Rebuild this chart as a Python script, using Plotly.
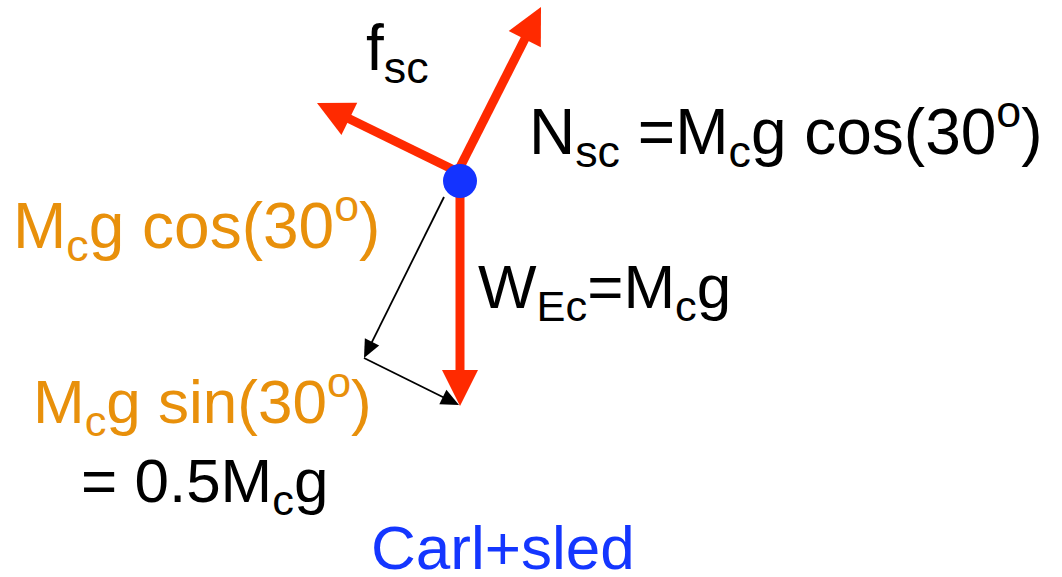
import numpy as np
import plotly.graph_objects as go

# --- diagram data (pixel-space coordinates of the free-body diagram) ---
W, H = 1062, 577
body_x, body_y = [460], [181]
body_label = ["Carl+sled"]

# red force vectors: name, tail, tip
force_names = ["N_sc", "f_sc", "W_Ec"]
force_tail_x = [455, 456, 460]
force_tail_y = [177, 171, 181]
force_tip_x = [541, 317, 460]
force_tip_y = [7, 103, 406]

# black component vectors of the weight
comp_names = ["Mg cos30", "Mg sin30"]
comp_tail_x = [444, 364]
comp_tail_y = [197, 358]
comp_tip_x = [364, 459]
comp_tip_y = [358, 405]

# text labels
label_texts = [
    "f<sub>sc</sub>",
    "N<sub>sc</sub> =M<sub>c</sub>g cos(30<sup>o</sup>)",
    "M<sub>c</sub>g cos(30<sup>o</sup>)",
    "W<sub>Ec</sub>=M<sub>c</sub>g",
    "M<sub>c</sub>g sin(30<sup>o</sup>)",
    "= 0.5M<sub>c</sub>g",
    "Carl+sled",
]
label_x = [364, 527, 11, 476, 31, 79, 369]
label_baseline = [75, 154, 248, 313, 424, 507, 570]
label_colors = ["black", "black", "#E8900B", "black", "#E8900B", "black", "#1436FF"]
label_sizes = [64, 64, 64, 62, 62, 62, 62]

RED = "#FF2A00"
BLUE = "#1433FF"

fig = go.Figure()


def head(tx, ty, hx, hy, length, width):
    d = np.array([hx - tx, hy - ty], float)
    d /= np.linalg.norm(d)
    p = np.array([-d[1], d[0]])
    tip = np.array([hx, hy], float)
    base = tip - d * length
    a = base + p * width / 2
    b = base - p * width / 2
    return [tip[0], a[0], b[0], tip[0]], [tip[1], a[1], b[1], tip[1]], base


def arrow(tx, ty, hx, hy, color, lw, hl, hw):
    xs, ys, base = head(tx, ty, hx, hy, hl, hw)
    fig.add_trace(go.Scatter(x=[tx, base[0] + (hx - tx) * 0.02], y=[ty, base[1] + (hy - ty) * 0.02],
                             mode="lines", line=dict(color=color, width=lw),
                             hoverinfo="skip", showlegend=False))
    fig.add_trace(go.Scatter(x=xs, y=ys, mode="lines", fill="toself", fillcolor=color,
                             line=dict(color=color, width=0), hoverinfo="skip", showlegend=False))


for i in range(len(comp_names)):
    arrow(comp_tail_x[i], comp_tail_y[i], comp_tip_x[i], comp_tip_y[i], "black", 1.8, 18, 16)

for i in range(len(force_names)):
    arrow(force_tail_x[i], force_tail_y[i], force_tip_x[i], force_tip_y[i], RED, 9, 36, 36)

fig.add_trace(go.Scatter(x=body_x, y=body_y, mode="markers",
                         marker=dict(size=34, color=BLUE, line=dict(width=0)),
                         hoverinfo="skip", showlegend=False))

for t, x, yb, c, s in zip(label_texts, label_x, label_baseline, label_colors, label_sizes):
    fig.add_annotation(x=x, y=yb - 0.36 * s, text=t, showarrow=False, xanchor="left", yanchor="middle",
                       font=dict(family="Liberation Sans, Arial, sans-serif", size=s, color=c),
                       xref="x", yref="y")

fig.update_layout(
    width=W, height=H, margin=dict(l=0, r=0, t=0, b=0),
    paper_bgcolor="white", plot_bgcolor="white",
    xaxis=dict(range=[0, W], visible=False, fixedrange=True),
    yaxis=dict(range=[H, 0], visible=False, fixedrange=True),
    showlegend=False,
)

fig.write_html("out.html", config={"displayModeBar": False},
               post_script="document.body.style.margin='0';document.body.style.overflow='hidden';")
